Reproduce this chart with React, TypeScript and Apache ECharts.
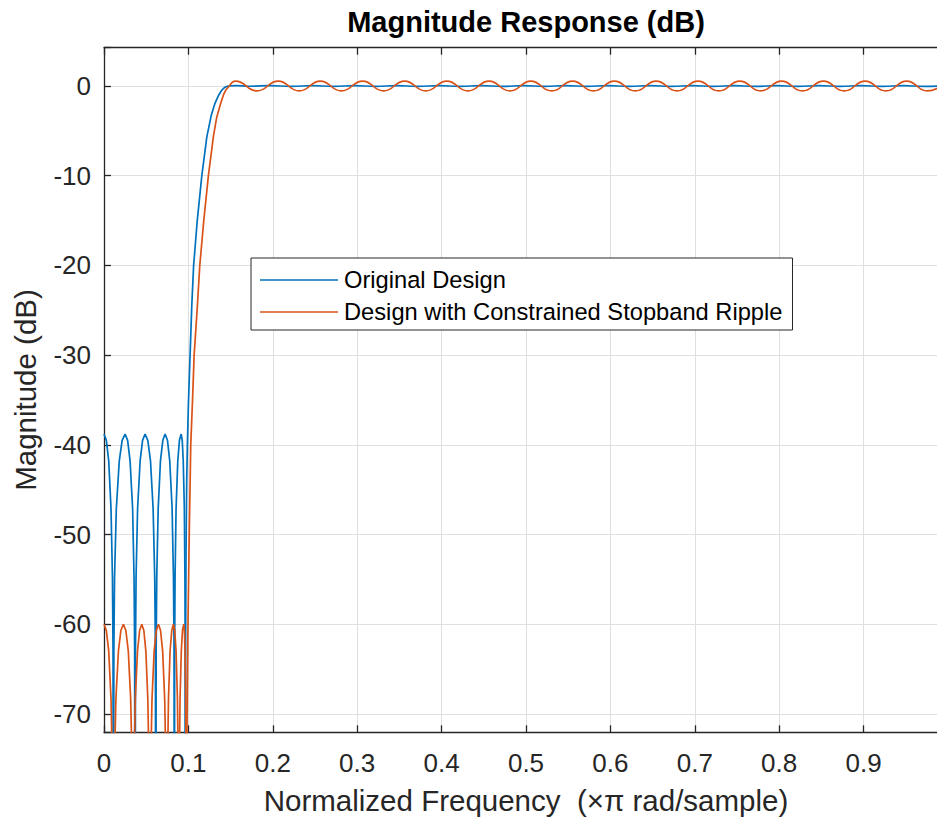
import React, { useEffect, useRef } from "react";
import * as echarts from "echarts";

const TITLE = "Magnitude Response (dB)";
const X_LABEL = "Normalized Frequency  (×π rad/sample)";
const Y_LABEL = "Magnitude (dB)";
const SERIES_NAMES = ["Original Design", "Design with Constrained Stopband Ripple"];

// [normalized frequency, magnitude dB]
const blueStopband: number[][] = [
  [0, -38.8], [0.0028, -39.5], [0.0056, -41.8], [0.0083, -47.1], [0.01, -54.8], [0.0107, -62.8], [0.0111, -100],
  [0.0117, -62.8], [0.0125, -54.8], [0.0146, -47.1], [0.0181, -41.8], [0.0215, -39.5], [0.025, -38.8],
  [0.028, -39.5], [0.0309, -41.8], [0.0339, -47.1], [0.0356, -54.8], [0.0363, -62.8], [0.0368, -100],
  [0.0373, -62.8], [0.038, -54.8], [0.0398, -47.1], [0.0428, -41.8], [0.0457, -39.5], [0.0487, -38.8],
  [0.0519, -39.5], [0.0551, -41.8], [0.0582, -47.1], [0.0601, -54.8], [0.0609, -62.8], [0.0614, -100],
  [0.0618, -62.8], [0.0625, -54.8], [0.0642, -47.1], [0.0669, -41.8], [0.0697, -39.5], [0.0724, -38.8],
  [0.0752, -39.5], [0.0779, -41.8], [0.0807, -47.1], [0.0823, -54.8], [0.083, -62.8], [0.0834, -100],
  [0.0837, -62.8], [0.0842, -54.8], [0.0854, -47.1], [0.0874, -41.8], [0.0894, -39.5], [0.0914, -38.8],
  [0.0927, -39.5], [0.0939, -41.8], [0.0952, -47.1], [0.0959, -54.8], [0.0962, -62.8], [0.0964, -100],
];
const blueTransition: number[][] = [
  [0.0964, -100], [0.0967, -62], [0.0972, -52], [0.098, -44], [0.0988, -40], [0.1, -35.5], [0.102, -30],
  [0.104, -24.5], [0.1062, -20], [0.1105, -15], [0.1159, -10], [0.1218, -5.7], [0.127, -3.3], [0.1316, -1.9],
  [0.136, -1.0], [0.1396, -0.45], [0.143, -0.15], [0.147, 0],
];
const bluePassband: number[][] = [
  [0.147, 0], [0.156, 0.05], [0.172, -0.03], [0.197, 0.04], [0.222, -0.04], [0.247, 0.04], [0.272, -0.04],
  [0.297, 0.04], [0.322, -0.04], [0.347, 0.04], [0.372, -0.04], [0.397, 0.04], [0.422, -0.04], [0.447, 0.04],
  [0.472, -0.04], [0.497, 0.04], [0.522, -0.04], [0.547, 0.04], [0.572, -0.04], [0.597, 0.04], [0.622, -0.04],
  [0.647, 0.04], [0.672, -0.04], [0.697, 0.04], [0.722, -0.04], [0.747, 0.04], [0.772, -0.04], [0.797, 0.04],
  [0.822, -0.04], [0.847, 0.04], [0.872, -0.04], [0.897, 0.04], [0.922, -0.04], [0.947, 0.04], [0.972, -0.04],
  [1.0, 0.04],
];
const orangeStopband: number[][] = [
  [0, -60], [0.0028, -60.7], [0.0056, -63], [0.0083, -68.3], [0.01, -76], [0.0111, -100],
  [0.0123, -76], [0.0141, -68.3], [0.0171, -63], [0.02, -60.7], [0.023, -60],
  [0.0259, -60.7], [0.0288, -63], [0.0316, -68.3], [0.0334, -76], [0.0345, -100],
  [0.0355, -76], [0.0371, -68.3], [0.0397, -63], [0.0422, -60.7], [0.0448, -60],
  [0.0472, -60.7], [0.0496, -63], [0.0519, -68.3], [0.0534, -76], [0.0543, -100],
  [0.0553, -76], [0.0569, -68.3], [0.0594, -63], [0.062, -60.7], [0.0645, -60],
  [0.067, -60.7], [0.0695, -63], [0.0719, -68.3], [0.0734, -76], [0.0744, -100],
  [0.0752, -76], [0.0764, -68.3], [0.0783, -63], [0.0803, -60.7], [0.0822, -60],
  [0.0838, -60.7], [0.0854, -63], [0.087, -68.3], [0.088, -76], [0.0886, -100],
  [0.0892, -76], [0.0901, -68.3], [0.0916, -63], [0.093, -60.7], [0.0945, -60],
  [0.0953, -60.7], [0.096, -63], [0.0968, -68.3], [0.0972, -76], [0.0975, -100],
];
const orangeTransition: number[][] = [
  [0.0975, -100], [0.0978, -80], [0.0985, -70], [0.0995, -60], [0.101, -50], [0.1028, -40], [0.1049, -35],
  [0.1068, -30], [0.1103, -25], [0.1135, -20], [0.1182, -15], [0.1237, -10], [0.1296, -5.65], [0.1335, -3.5],
  [0.1384, -1.9], [0.1415, -1.0], [0.1443, -0.45], [0.1486, 0],
];
const orangePassband: number[][] = [
  [0.1486, 0], [0.156, 0.55], [0.1812, -0.55], [0.2064, 0.55], [0.2313, -0.55], [0.2562, 0.55], [0.2813, -0.55],
  [0.3064, 0.55], [0.3313, -0.55], [0.3562, 0.55], [0.3812, -0.55], [0.4062, 0.55], [0.4312, -0.55],
  [0.4562, 0.55], [0.481, -0.55], [0.5057, 0.55], [0.5305, -0.55], [0.5552, 0.55], [0.58, -0.55],
  [0.6047, 0.55], [0.6295, -0.55], [0.6542, 0.55], [0.679, -0.55], [0.7038, 0.55], [0.7285, -0.55],
  [0.7533, 0.55], [0.778, -0.55], [0.8028, 0.55], [0.8276, -0.55], [0.8524, 0.55], [0.8771, -0.55],
  [0.9018, 0.55], [0.9264, -0.55], [0.951, 0.55], [0.9755, -0.55], [1.0, 0.55],
];

const X_MIN = 0;
const X_MAX = 1;
const X_STEP = 0.1;
const Y_MIN = -72.05;
const Y_MAX = 4.27;

export default function App() {
  const ref = useRef<HTMLDivElement>(null);

  useEffect(() => {
    if (!ref.current) return;
    const chart = echarts.init(ref.current, undefined, { renderer: "svg" });
    const FONT = "'Liberation Sans', Arial, Helvetica, sans-serif";
    const AX = "#262626";
    const GRIDC = "#dfdfdf";
    const BLUE = "#0072BD";
    const ORANGE = "#D95319";

    const mk = (name: string, data: number[][], color: string, smooth: boolean, z: number) => ({
      type: "line",
      name,
      data,
      smooth,
      symbol: "none",
      showSymbol: false,
      clip: true,
      silent: true,
      z,
      lineStyle: { color, width: 1.7 },
      itemStyle: { color },
      emphasis: { disabled: true },
    });

    chart.setOption({
      animation: false,
      backgroundColor: "#ffffff",
      grid: { left: 104, top: 47.7, width: 844, height: 684.6, outerBoundsMode: "none" },
      xAxis: [
        {
          type: "value",
          min: X_MIN,
          max: X_MAX,
          interval: X_STEP,
          position: "bottom",
          axisLine: { show: true, onZero: false, lineStyle: { color: AX, width: 1.3 } },
          axisTick: { show: true, inside: true, length: 7, lineStyle: { color: AX, width: 1.3 } },
          axisLabel: {
            show: true,
            margin: 18,
            fontSize: 26,
            color: AX,
            fontFamily: FONT,
            formatter: (v: number) => {
              const r = Math.round(v * 10) / 10;
              return r >= 1 ? "" : String(r);
            },
          },
          splitLine: { show: true, lineStyle: { color: GRIDC, width: 1 } },
        },
        {
          type: "value",
          min: X_MIN,
          max: X_MAX,
          interval: X_STEP,
          position: "top",
          axisLine: { show: true, onZero: false, lineStyle: { color: AX, width: 1.3 } },
          axisTick: { show: true, inside: true, length: 7, lineStyle: { color: AX, width: 1.3 } },
          axisLabel: { show: false },
          splitLine: { show: false },
        },
      ],
      yAxis: {
        type: "value",
        min: Y_MIN,
        max: Y_MAX,
        splitNumber: 8,
        axisLine: { show: true, onZero: false, lineStyle: { color: AX, width: 1.3 } },
        axisTick: { show: true, inside: true, length: 7, lineStyle: { color: AX, width: 1.3 } },
        axisLabel: {
          show: true,
          margin: 13,
          fontSize: 26,
          color: AX,
          fontFamily: FONT,
          formatter: (v: number) =>
            Math.abs(v / 10 - Math.round(v / 10)) < 1e-6 ? String(Math.round(v)) : "",
        },
        splitLine: { show: true, lineStyle: { color: GRIDC, width: 1 } },
      },
      legend: {
        data: SERIES_NAMES,
        icon: "rect",
        orient: "vertical",
        left: 251,
        top: 258,
        padding: [10, 10, 6, 9],
        itemGap: 8,
        itemWidth: 78,
        itemHeight: 1.7,
        selectedMode: false,
        backgroundColor: "#ffffff",
        borderColor: AX,
        borderWidth: 1,
        borderRadius: 0,
        textStyle: { fontSize: 23.7, color: "#000", fontFamily: FONT, padding: [0, 0, 0, 1] },
      },
      graphic: [
        {
          type: "text",
          x: 526,
          y: 22,
          silent: true,
          style: {
            text: TITLE,
            fontSize: 29,
            fontWeight: "bold",
            fontFamily: FONT,
            fill: "#000",
            align: "center",
            verticalAlign: "middle",
            textAlign: "center",
            textVerticalAlign: "middle",
          },
        },
        {
          type: "text",
          x: 526,
          y: 800,
          silent: true,
          style: {
            text: X_LABEL,
            fontSize: 29.5,
            fontFamily: FONT,
            fill: AX,
            align: "center",
            verticalAlign: "middle",
            textAlign: "center",
            textVerticalAlign: "middle",
          },
        },
        {
          type: "text",
          x: 25,
          y: 390,
          rotation: Math.PI / 2,
          silent: true,
          style: {
            text: Y_LABEL,
            fontSize: 29.5,
            fontFamily: FONT,
            fill: AX,
            align: "center",
            verticalAlign: "middle",
            textAlign: "center",
            textVerticalAlign: "middle",
          },
        },
      ],
      series: [
        mk(SERIES_NAMES[0], blueStopband, BLUE, false, 2),
        mk(SERIES_NAMES[0], blueTransition, BLUE, false, 2),
        mk(SERIES_NAMES[0], bluePassband, BLUE, true, 2),
        mk(SERIES_NAMES[1], orangeStopband, ORANGE, false, 3),
        mk(SERIES_NAMES[1], orangeTransition, ORANGE, false, 3),
        mk(SERIES_NAMES[1], orangePassband, ORANGE, true, 3),
      ],
    });

    return () => chart.dispose();
  }, []);

  return (
    <div
      style={{
        position: "absolute",
        left: 0,
        top: 0,
        width: 937,
        height: 821,
        overflow: "hidden",
        background: "#ffffff",
      }}
    >
      <div ref={ref} style={{ width: 1000, height: 821 }} />
    </div>
  );
}
